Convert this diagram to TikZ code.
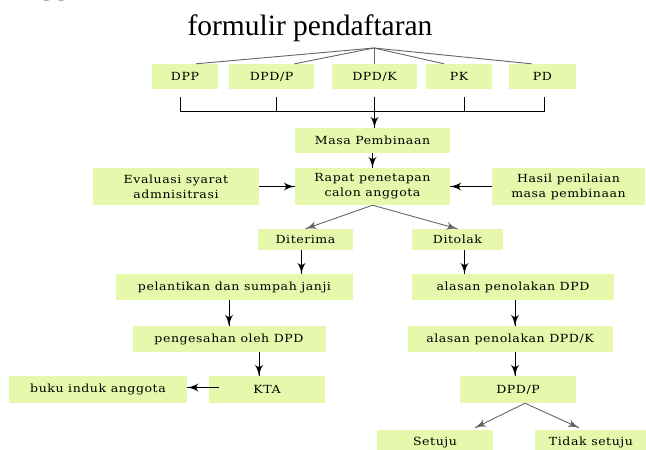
\documentclass[tikz,border=0pt]{standalone}
\usepackage{fontspec}
\setmainfont{Liberation Serif}
\newfontfamily\boxfont[FakeStretch=1.12, LetterSpace=5]{DejaVu Serif}
\usetikzlibrary{arrows}
\usetikzlibrary{decorations.markings}
\definecolor{boxgreen}{RGB}{230,248,172}
\tikzset{->/.style = {decoration={markings,
                                  mark=at position 1 with {\arrow[scale=2]{latex'}}},
                      postaction={decorate}}}
\tikzset{greenbox/.style 2 args = {fill=boxgreen, inner sep=0pt, align=center,
                                   minimum width=#1pt, minimum height=#2pt,
                                   font=\boxfont\fontsize{11.2}{15}\selectfont},
         fan/.style = {draw=black!60, line width=0.9pt},
         link/.style = {draw=black, line width=0.9pt}}

\begin{document}
\begin{tikzpicture}[x=1pt, y=-1pt]
    \useasboundingbox (0, 0) rectangle (646, 450);

    \node [anchor = base west, font=\fontsize{29.5}{30}\selectfont] (cut) at (36, -5.2) {gg};
    \node [anchor = base, font=\fontsize{29.5}{30}\selectfont] (title) at (310, 35) {formulir pendaftaran};
    \coordinate (apex) at (374, 48);

    \node [greenbox={66}{25}] (dpp) at (185, 76.5) {DPP};
    \node [greenbox={85}{25}] (dpdp) at (271.5, 76.5) {DPD/P};
    \node [greenbox={85}{25}] (dpdk) at (374.5, 76.5) {DPD/K};
    \node [greenbox={66}{25}] (pk) at (459, 76.5) {PK};
    \node [greenbox={67}{25}] (pd) at (542.5, 76.5) {PD};

    \draw [fan] (apex) -- ([xshift=11pt]dpp.north);
    \draw [fan] (apex) -- ([xshift=23pt]dpdp.north);
    \draw [fan] (apex) -- (apex |- dpdk.north);
    \draw [fan] (apex) -- ([xshift=-15pt]pk.north);
    \draw [fan] (apex) -- ([xshift=-11pt]pd.north);

    \draw [link] ([xshift=-5pt, yshift=-8pt]dpp.south) -- ([xshift=-5pt, yshift=-22pt]dpp.south)
                 -- ([xshift=1.5pt, yshift=-22pt]pd.south) -- ([xshift=1.5pt, yshift=-8pt]pd.south);
    \draw [link] ([xshift=4.5pt, yshift=-8pt]dpdp.south) -- ([xshift=4.5pt, yshift=-22pt]dpdp.south);
    \draw [link] ([xshift=5pt, yshift=-8pt]pk.south) -- ([xshift=5pt, yshift=-22pt]pk.south);

    \node [greenbox={155}{25}] (masa) at (372.5, 140.5) {Masa Pembinaan};
    \draw [link, ->] ([yshift=-8pt]dpdk.south) -- (dpdk.south |- masa.north);

    \node [greenbox={166}{37}] (evaluasi) at (176, 186.5) {Evaluasi syarat\\admnisitrasi};
    \node [greenbox={155}{37}] (rapat) at (372.5, 186.5) {Rapat penetapan\\calon anggota};
    \node [greenbox={153}{37}] (hasil) at (568.5, 186.5) {Hasil penilaian\\masa pembinaan};
    \draw [link, ->] (masa) -- (rapat);
    \draw [link, ->] (evaluasi) -- (rapat);
    \draw [link, ->] (hasil) -- (rapat);

    \node [greenbox={95}{21}] (diterima) at (305.5, 239.5) {Diterima};
    \node [greenbox={91}{21}] (ditolak) at (457.5, 239.5) {Ditolak};
    \draw [fan, ->] (rapat.south) -- (diterima.north);
    \draw [fan, ->] (rapat.south) -- (ditolak.north);

    % left branch
    \node [greenbox={237}{26}] (pelantikan) at (234.5, 287) {pelantikan dan sumpah janji};
    \node [greenbox={193}{26}] (pengesahan) at (229, 339) {pengesahan oleh DPD};
    \node [greenbox={116}{27}] (kta) at (267, 389.5) {KTA};
    \node [greenbox={178.5}{27}] (buku) at (98, 389.5) {buku induk anggota};
    \draw [link, ->] ([xshift=-4pt]diterima.south) -- ([xshift=-4pt]diterima.south |- pelantikan.north);
    \draw [link, ->] (pengesahan.north |- pelantikan.south) -- (pengesahan.north);
    \draw [link, ->] ([xshift=-8pt]kta.north |- pengesahan.south) -- ([xshift=-8pt]kta.north);
    \draw [link, ->] ([xshift=10pt, yshift=2pt]kta.west) -- ([yshift=2pt]buku.east);

    % right branch
    \node [greenbox={202}{26}] (alasandpd) at (513, 287) {alasan penolakan DPD};
    \node [greenbox={205}{26}] (alasandpdk) at (510, 339) {alasan penolakan DPD/K};
    \node [greenbox={116}{27}] (dpdpb) at (518, 389.5) {DPD/P};
    \node [greenbox={116}{25}] (setuju) at (435, 442.5) {Setuju};
    \node [greenbox={112}{25}] (tidak) at (591, 442.5) {Tidak setuju};
    \draw [link, ->] ([xshift=7pt]ditolak.south) -- ([xshift=7pt]ditolak.south |- alasandpd.north);
    \draw [link, ->] ([xshift=5pt]alasandpdk.north |- alasandpd.south) -- ([xshift=5pt]alasandpdk.north);
    \draw [link, ->] ([xshift=-3pt]dpdpb.north |- alasandpdk.south) -- ([xshift=-3pt]dpdpb.north);
    \draw [fan, ->] ([xshift=7pt]dpdpb.south) -- ([xshift=40pt, yshift=2pt]setuju.north);
    \draw [fan, ->] ([xshift=7pt]dpdpb.south) -- ([xshift=-12pt, yshift=2pt]tidak.north);
  \end{tikzpicture}
\end{document}
